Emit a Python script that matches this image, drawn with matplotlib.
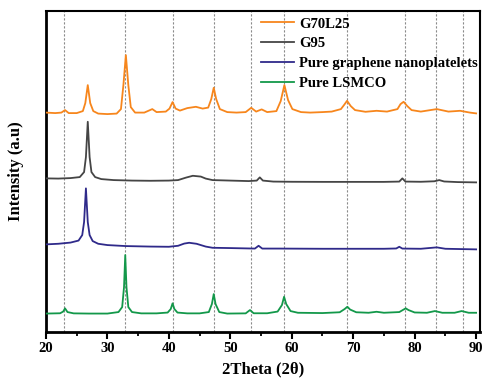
import matplotlib
matplotlib.use("Agg")
import matplotlib.pyplot as plt

plt.rcParams['font.family'] = ['Liberation Serif', 'DejaVu Serif']

# ---- data (intensity in arbitrary units, offset stacked) ----
labels = ["G70L25", "G95", "Pure graphene nanoplatelets", "Pure LSMCO"]
colors = ["#f7861c", "#454545", "#2f2a8a", "#13984a"]

g70_x = [20, 21.5, 22.5, 23.1, 23.7, 25, 26, 26.4, 26.8, 27.2, 27.7, 28.5, 30, 31.5, 32.2, 32.6, 33.0, 33.4,
         33.8, 34.5, 36, 37.3, 38, 39.5, 40.1, 40.6, 41.1, 41.8, 43, 44.4, 45.5, 46.4, 46.9, 47.3, 47.7, 48.3,
         49.5, 51, 52.5, 53.4, 54.2, 55.1, 56, 57.5, 58.2, 58.8, 59.4, 60.1, 61.5, 63, 65, 66.5, 68.0, 68.5,
         69.0, 69.6, 70.3, 72, 73.8, 75.5, 77.2, 77.7, 78.2, 78.8, 79.5, 81, 83.6, 85.5, 87.4, 89, 90]
g70_y = [219.5, 219, 219.5, 222, 219, 219, 221, 229, 247, 229, 221, 218.5, 218, 218.5, 223, 247, 277, 247,
         225, 219.5, 219.5, 223, 220, 220.5, 223.5, 230, 223.5, 221.5, 224, 225.3, 223.5, 224.5, 233, 244.3, 233, 223,
         220, 219.5, 220, 224.3, 220.5, 222.7, 220, 221, 231, 247, 232, 223, 220, 219.5, 220, 220.5, 223, 227,
         231.3, 226, 222, 220.3, 221.3, 220.5, 223, 228, 230.3, 226, 222, 220.5, 223, 220.5, 221.3, 219.5, 218.7]

g95_x = [20, 22, 24, 25.5, 26.2, 26.5, 26.8, 27.1, 27.4, 28, 29, 31, 34, 37, 40, 41.5, 42.8, 43.9, 45.2, 46,
         47.1, 50, 53, 54.3, 54.8, 55.3, 57, 60, 65, 70, 75, 77.5, 78.0, 78.5, 81, 83.2, 84, 84.8, 87, 90]
g95_y = [153.7, 153.5, 154, 155, 160, 175, 210.3, 175, 160, 155, 153, 152, 151.5, 151.3, 151.5, 152, 154.5,
         156.3, 155.5, 153.5, 152, 151.5, 151, 151.5, 154.7, 151.5, 150.5, 150.3, 150.2, 150.2, 150.2, 150.5,
         153.7, 150.5, 150.3, 150.8, 152, 150.6, 150, 149.7]

gnp_x = [20, 22, 24, 25.3, 25.9, 26.2, 26.5, 26.8, 27.1, 27.6, 28.5, 30, 33, 37, 40, 41.5, 42.5, 43.3, 44.5,
         46, 47.1, 50, 54, 54.6, 55.2, 58, 65, 70, 75, 77.0, 77.5, 78.0, 81, 83.6, 85, 90]
gnp_y = [87.7, 88.3, 89.5, 91.5, 97, 110, 143.7, 110, 97, 91, 88.3, 87, 86, 85.5, 85.3, 86.3, 88.5, 89.3, 88.3,
         85.5, 84.3, 84, 83.5, 86.3, 83.5, 83.5, 83.3, 83.3, 83.3, 83.6, 85.3, 83.5, 83.3, 84.7, 83.3, 82.7]

lsmco_x = [20, 22.3, 22.8, 23.1, 23.5, 24.5, 27, 30, 31.8, 32.4, 32.7, 32.9, 33.1, 33.4, 34, 35.5, 38, 39.8,
           40.3, 40.6, 40.9, 41.4, 43, 45, 46.5, 47.0, 47.3, 47.6, 48.2, 49.5, 52.5, 53.2, 53.8, 56, 57.7, 58.4,
           58.75, 59.1, 59.8, 61, 65, 67.8, 68.6, 69.05, 69.5, 70.5, 72.5, 73.8, 75, 77.5, 78.2, 78.55, 79, 80,
           82, 83.3, 84.5, 86.5, 87.65, 88.8, 90]
lsmco_y = [18.5, 18.8, 20.5, 23.7, 20, 18.7, 18.5, 18.5, 20, 25, 45, 77, 45, 25, 20, 18.7, 18.7, 19.5,
           23, 28.7, 23, 19.5, 18.7, 18.7, 20, 28, 38, 28, 20, 18.5, 18.7, 22, 18.8, 18.8, 20.5, 27,
           35.3, 28, 21, 19.3, 19, 19.8, 23, 25.3, 22.5, 19.8, 19.3, 20.3, 19.3, 20, 22.5, 23.7, 22, 19.6,
           19.3, 21, 19.3, 19.3, 21, 19.3, 19.3]

ref_lines = [23.0, 32.9, 40.6, 47.3, 53.3, 58.8, 69.0, 78.5, 83.4, 87.8]
xticks = [20, 30, 40, 50, 60, 70, 80, 90]
minor_xticks = [25, 35, 45, 55, 65, 75, 85]

# ---- figure ----
fig = plt.figure(figsize=(4.82, 3.83), dpi=100)
ax = fig.add_axes([0.0954, 0.133, 0.900, 0.838])

for xv in ref_lines:
    ax.axvline(xv, color="#8a8a8a", lw=0.8, linestyle=(0, (2, 1.6)), zorder=1)

series = [(g70_x, g70_y), (g95_x, g95_y), (gnp_x, gnp_y), (lsmco_x, lsmco_y)]
for (xs, ys), lab, c in zip(series, labels, colors):
    ax.plot(xs, ys, color=c, lw=1.3, label=lab, zorder=3)

ax.set_xlim(20, 90.6)
ax.set_ylim(0, 321)
ax.set_xticks(xticks)
ax.set_xticks(minor_xticks, minor=True)
ax.set_yticks([])
ax.tick_params(axis='x', which='major', direction='out', length=5, width=1.5, labelsize=10.5, pad=2)
ax.tick_params(axis='x', which='minor', direction='out', length=3, width=1.3)
for lbl in ax.get_xticklabels():
    lbl.set_fontweight('bold')
for sp in ax.spines.values():
    sp.set_linewidth(1.5)
ax.spines['left'].set_linewidth(2.0)
ax.spines['bottom'].set_linewidth(2.0)

ax.set_xlabel("2Theta (2θ)", fontsize=12, fontweight='bold', labelpad=5)
ax.set_ylabel("Intensity (a.u)", fontsize=12, fontweight='bold', labelpad=16)

leg = ax.legend(loc='upper right', bbox_to_anchor=(1.0, 0.9875), frameon=False, handlelength=2.3,
                handletextpad=0.3, labelspacing=0.46, borderaxespad=0.15, borderpad=0.0,
                prop={'weight': 'bold', 'size': 10.5})

fig.savefig("out.png", dpi=100)
